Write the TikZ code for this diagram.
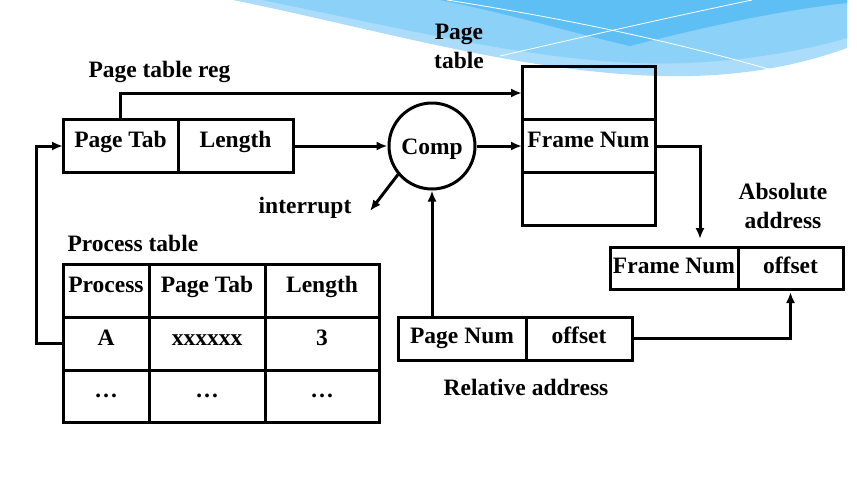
\documentclass[tikz,border=0pt]{standalone}
\usepackage{fontspec}
\setmainfont{Liberation Serif}
\usetikzlibrary{arrows.meta,positioning,shapes}
\tikzset{>={Latex[length=11pt,width=9pt]}}
\tikzstyle{cell}=[draw, text centered, inner sep=0pt, outer sep=0pt, minimum height=53, text height=10pt, text depth=7pt]
\tikzstyle{slim}=[cell, minimum height=43, text height=14pt, text depth=4pt]
\tikzstyle{lbl}=[align=center, inner sep=0pt]
\definecolor{waveA}{HTML}{ABDCF9}
\definecolor{waveB}{HTML}{8CD1F8}
\definecolor{waveC}{HTML}{5EBFF4}
\def\ux{1pt}
\def\uy{-1pt}

\begin{document}
\begin{tikzpicture}[x=\ux,y=\uy, font=\fontsize{23.5}{29}\selectfont\bfseries, line width=3pt]
		\useasboundingbox (0,0) rectangle (857,483);
		% wave in the background
		\fill[waveA] (233,0) .. controls (380,30) and (520,72) .. (660,76) .. controls (740,78) and (800,65) .. (847,48) -- (847,0) -- cycle;
		\fill[waveB] (262,0) .. controls (400,28) and (530,60) .. (640,63) .. controls (720,66) and (800,52) .. (847,38) -- (847,0) -- cycle;
		\fill[waveC] (440,0) .. controls (510,14) and (570,32) .. (630,46) .. controls (700,28) and (780,10) .. (847,3) -- (847,0) -- cycle;
		\draw[white, line width=0.8pt] (447,0) .. controls (560,18) and (660,38) .. (772,70);
		\draw[white, line width=0.8pt] (500,56) .. controls (600,33) and (680,15) .. (752,0);

		% page table register
		\node[cell, minimum width=115] (ptab) at (120.5,146) {Page Tab};
		\node[cell, minimum width=115, right=0pt of ptab] (plen) {Length};
		\node[lbl, anchor=base west] (ptreg) at (87,77) {Page table reg};

		% page table
		\node[cell, minimum width=133] (pt1) at (588.5,93) {};
		\node[cell, minimum width=133, below=0pt of pt1] (pt2) {Frame Num};
		\node[cell, minimum width=133, below=0pt of pt2] (pt3) {};
		\node[lbl] (ptlbl) at (459,46) {Page\\table};

		\node[draw, circle, minimum size=86, inner sep=0pt, text height=16pt, text depth=0pt] (comp) at (432,146) {Comp};
		\node[lbl, anchor=base] (intr) at (305,213) {interrupt};
		\coordinate (intrtip) at (370,211);

		% relative address
		\node[slim, minimum width=128] (pnum) at (462,338.5) {Page Num};
		\node[slim, minimum width=106, right=0pt of pnum] (poff) {offset};
		\node[lbl, anchor=base] (rel) at (526,395) {Relative address};

		% absolute address
		\node[slim, minimum width=128, minimum height=42] (afnum) at (674,268) {Frame Num};
		\node[slim, minimum width=105, minimum height=42, right=0pt of afnum] (aoff) {offset};
		\node[lbl] (abs) at (783,206) {Absolute\\address};
		\coordinate (fnbend) at (700,146);

		% process table
		\node[cell, minimum width=86] (pr11) at (106,290.5) {Process};
		\node[cell, minimum width=116, right=0pt of pr11] (pr12) {Page Tab};
		\node[cell, minimum width=114, right=0pt of pr12] (pr13) {Length};
		\node[cell, minimum width=86, below=0pt of pr11] (pr21) {A};
		\node[cell, minimum width=116, below=0pt of pr12] (pr22) {xxxxxx};
		\node[cell, minimum width=114, below=0pt of pr13] (pr23) {3};
		\node[cell, minimum width=86, minimum height=52, below=0pt of pr21] (pr31) {…};
		\node[cell, minimum width=116, minimum height=52, below=0pt of pr22] (pr32) {…};
		\node[cell, minimum width=114, minimum height=52, below=0pt of pr23] (pr33) {…};
		\node[lbl, anchor=base west] (prlbl) at (66,251) {Process table};

		\draw[->] (ptab.north) |- (pt1.west);
		\draw[->] (plen.east) -- (comp.west);
		\draw[->] (comp.east) -- (pt2.west);
		\draw[->] (comp.220) -- (intrtip);
		\draw[->] (pnum.north -| comp.south) -- (comp.south);
		\draw[->, shorten >=8pt] (pt2.east) -| (fnbend |- afnum.north);
		\draw[->, shorten >=3pt] (poff.east) -| (aoff.south);
		\draw[->] (pr21.west) -- ++(-27,0) |- (ptab.west);
\end{tikzpicture}
\end{document}
